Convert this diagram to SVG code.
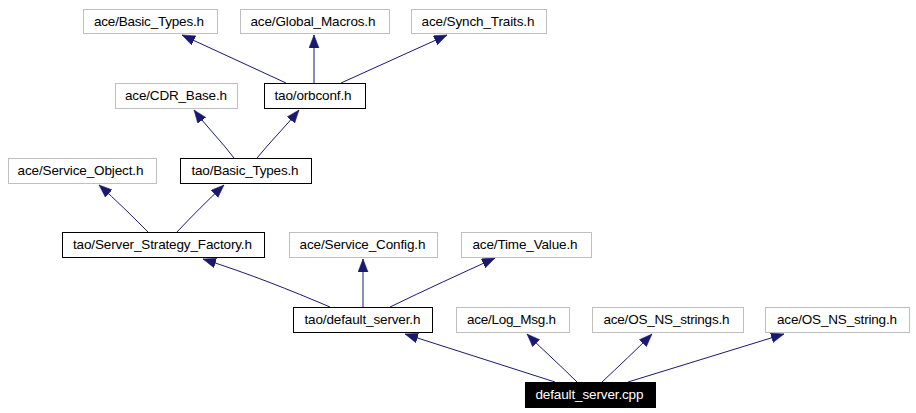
<svg xmlns="http://www.w3.org/2000/svg" width="916" height="413" viewBox="0 0 916 413">
<style>
rect{stroke-width:1}
.g rect{fill:#fff;stroke:#bfbfbf}
.k rect{fill:#fff;stroke:#000}
.m rect{fill:#000;stroke:#000}
text{font-family:"Liberation Sans",Arial,sans-serif;font-size:13.5px;text-anchor:middle;fill:#000}
.m text{fill:#fff}
#edges path{fill:none;stroke:#191970;stroke-width:1;marker-end:url(#ah)}
</style>
<defs>
<marker id="ah" markerUnits="userSpaceOnUse" markerWidth="14" markerHeight="12" refX="13" refY="5" orient="auto">
<path d="M0,0 L13,5 L0,10 z" fill="#191970" stroke="#191970" stroke-width="0.5"/>
</marker>
</defs>
<rect width="916" height="413" fill="#fff"/>
<g id="edges">
<path d="M286,83 L182,35"/>
<path d="M314,83 L314,35"/>
<path d="M341,83 L447,35"/>
<path d="M234,158 C222,142 206,126 194,110"/>
<path d="M257,158 C270,142 286,126 299,110"/>
<path d="M148,232 C132,216 116,200 99,185"/>
<path d="M177,232 C192,216 208,200 224,185"/>
<path d="M330,307 C290,290 250,274 203,259"/>
<path d="M363,307 L363,259"/>
<path d="M390,307 C425,290 460,274 495,258"/>
<path d="M555,382 C505,366 455,350 405,334"/>
<path d="M577,382 C561,366 543,350 527,334"/>
<path d="M602,382 C619,366 636,350 652,334"/>
<path d="M628,382 C680,366 732,350 784,334"/>
</g>
<g id="n_ace_basic_types" class="g"><rect x="83.5" y="9.5" width="134" height="24"/><text x="149" y="25.5" textLength="110">ace/Basic_Types.h</text></g>
<g id="n_global_macros" class="g"><rect x="240.5" y="9.5" width="149" height="24"/><text x="313" y="25.5" textLength="125">ace/Global_Macros.h</text></g>
<g id="n_synch_traits" class="g"><rect x="411.5" y="9.5" width="135" height="24"/><text x="478" y="25.5" textLength="113">ace/Synch_Traits.h</text></g>
<g id="n_cdr_base" class="g"><rect x="115.5" y="83.5" width="122" height="25"/><text x="176" y="100.3" textLength="102">ace/CDR_Base.h</text></g>
<g id="n_orbconf" class="k"><rect x="264.5" y="83.5" width="101" height="25"/><text x="313" y="100.3" textLength="77">tao/orbconf.h</text></g>
<g id="n_service_object" class="g"><rect x="8.5" y="158.5" width="148" height="25"/><text x="80.5" y="175.3" textLength="126">ace/Service_Object.h</text></g>
<g id="n_tao_basic_types" class="k"><rect x="180.5" y="158.5" width="131" height="25"/><text x="245" y="175.3" textLength="107">tao/Basic_Types.h</text></g>
<g id="n_ssf" class="k"><rect x="62.5" y="232.5" width="202" height="25"/><text x="162.5" y="249.3" textLength="179">tao/Server_Strategy_Factory.h</text></g>
<g id="n_service_config" class="g"><rect x="289.5" y="232.5" width="148" height="25"/><text x="362.5" y="249.3" textLength="126">ace/Service_Config.h</text></g>
<g id="n_time_value" class="g"><rect x="461.5" y="232.5" width="130" height="25"/><text x="525" y="249.3" textLength="105">ace/Time_Value.h</text></g>
<g id="n_default_server_h" class="k"><rect x="293.5" y="307.5" width="139" height="25"/><text x="362.5" y="324.3" textLength="116">tao/default_server.h</text></g>
<g id="n_log_msg" class="g"><rect x="456.5" y="307.5" width="113" height="25"/><text x="511.5" y="324.3" textLength="89">ace/Log_Msg.h</text></g>
<g id="n_os_ns_strings" class="g"><rect x="592.5" y="307.5" width="151" height="25"/><text x="666.5" y="324.3" textLength="126">ace/OS_NS_strings.h</text></g>
<g id="n_os_ns_string" class="g"><rect x="765.5" y="307.5" width="144" height="25"/><text x="837" y="324.3" textLength="120">ace/OS_NS_string.h</text></g>
<g id="n_default_server_cpp" class="m"><rect x="525.5" y="382.5" width="130" height="25"/><text x="589.5" y="399.3" textLength="108">default_server.cpp</text></g>
</svg>
